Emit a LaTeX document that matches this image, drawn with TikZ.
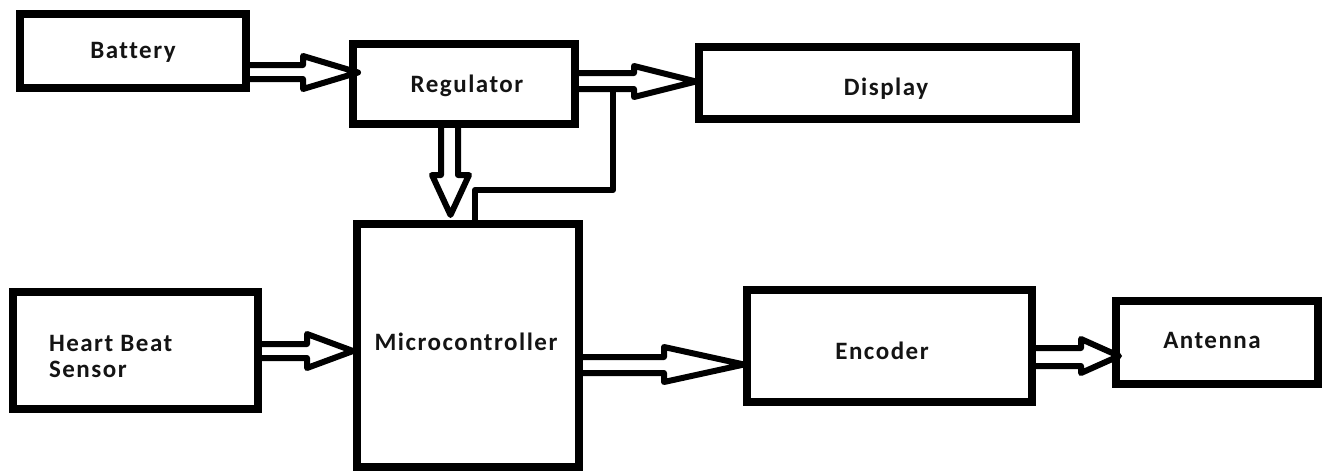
\documentclass[tikz,border=0pt]{standalone}
\usepackage{fontspec}
\setmainfont{Carlito}[LetterSpace=6.0, Ligatures={NoCommon}]
\usetikzlibrary{calc}
\tikzset{
  box/.style={draw=black, line width=7.5pt, inner sep=0pt, outer sep=0pt, fill=none},
  lbl/.style={inner sep=0pt, outer sep=0pt, font=\fontsize{25pt}{26pt}\selectfont\bfseries, text=black!92},
  blockarrow/.style={draw=black, line width=6pt, line join=round, line cap=butt},
  wire/.style={draw=black, line width=6pt, line join=round, line cap=round}
}
\begin{document}
\begin{tikzpicture}[x=1pt, y=-1pt]
\useasboundingbox (0,0) rectangle (1325,471);
% boxes
\node[box, minimum width=226pt, minimum height=74pt] (bat) at (133,51) {};
\node[box, minimum width=222pt, minimum height=80pt] (reg) at (464,84) {};
\node[box, minimum width=377pt, minimum height=72pt] (dis) at (887.5,83) {};
\node[box, minimum width=245pt, minimum height=117pt] (hbs) at (135.5,350.5) {};
\node[box, minimum width=222pt, minimum height=243pt] (mc) at (468,345.5) {};
\node[box, minimum width=285pt, minimum height=112pt] (enc) at (889.5,346) {};
\node[box, minimum width=202pt, minimum height=83pt] (ant) at (1217,342.5) {};
% labels
\node[lbl, anchor=base] (tbat) at (133,58) {Battery};
\node[lbl, anchor=base] (treg) at (467,92) {Regulator};
\node[lbl, anchor=base] (tdis) at (886,95) {Display};
\node[lbl, anchor=base west] (thbs1) at (49,351) {Heart Beat};
\node[lbl, anchor=base west] (thbs2) at (49,377) {Sensor};
\node[lbl, anchor=base] (tmc) at (466,350) {Microcontroller};
\node[lbl, anchor=base] (tenc) at (882,359) {Encoder};
\node[lbl, anchor=base] (tant) at (1212,348) {Antenna};
% Battery -> Regulator
\draw[blockarrow] (bat.east |- 0,65) -- (303,65) -- (303,56) -- ($(reg.west |- 0,72.5)+(5,0)$) -- (303,89) -- (303,79) -- (bat.east |- 0,79);
% Regulator -> Display
\draw[blockarrow] (reg.east |- 0,73) -- (634,73) -- (634,66) -- ($(dis.west |- 0,81.5)+(-3,0)$) -- (634,97) -- (634,89) -- (reg.east |- 0,89);
% branch from the Regulator -> Display arrow to the Microcontroller
\coordinate (br) at (613,89);
\coordinate (brc) at (613,190);
\draw[wire] (br) -- (brc) -- (475,190) -- (mc.north -| 475,0);
% Regulator -> Microcontroller
\draw[blockarrow] (reg.south -| 441,0) -- (441,175) -- (432,175) -- ($(mc.north -| 450.5,0)+(0,-9)$) -- (469,175) -- (458,175) -- (reg.south -| 458,0);
% Heart Beat Sensor -> Microcontroller
\draw[blockarrow] (hbs.east |- 0,344) -- (307,344) -- (307,334) -- ($(mc.west |- 0,351)+(-4,0)$) -- (307,368) -- (307,358) -- (hbs.east |- 0,358);
% Microcontroller -> Encoder
\draw[blockarrow] (mc.east |- 0,357) -- (664,357) -- (664,347) -- ($(enc.west |- 0,364.5)+(-3,0)$) -- (664,382) -- (664,373) -- (mc.east |- 0,373);
% Encoder -> Antenna
\draw[blockarrow] (enc.east |- 0,348) -- (1081,348) -- (1081,339) -- ($(ant.west |- 0,356)+(3,0)$) -- (1081,373) -- (1081,366) -- (enc.east |- 0,366);
\end{tikzpicture}
\end{document}
